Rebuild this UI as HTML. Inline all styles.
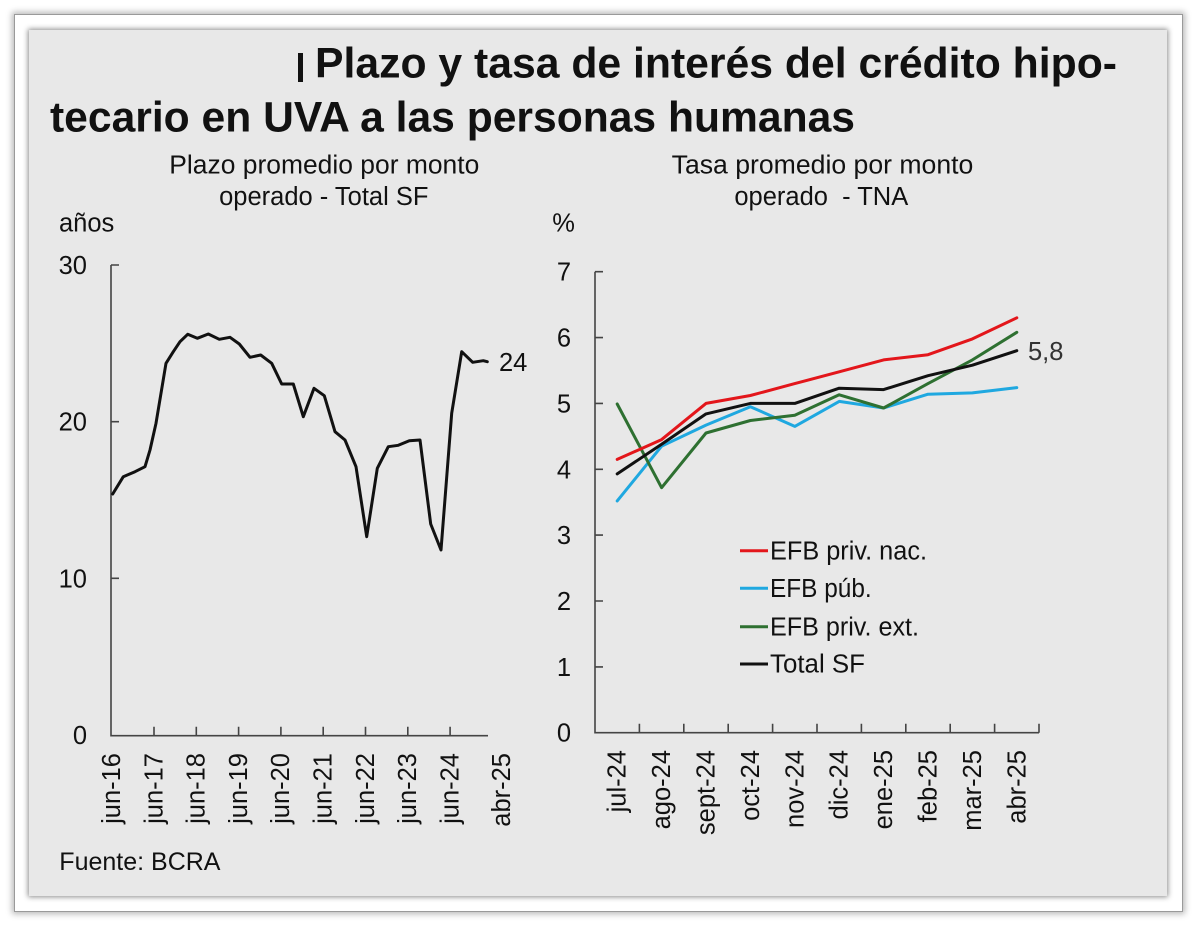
<!DOCTYPE html>
<html><head><meta charset="utf-8">
<style>
html,body{margin:0;padding:0;background:#fff;width:1200px;height:929px;overflow:hidden;}
.outer{position:absolute;left:14px;top:14px;width:1167px;height:896px;background:#fff;border:1px solid #9a9a9a;box-shadow:0 0 6px 2px rgba(0,0,0,0.28);}
.inner{position:absolute;left:29px;top:30px;width:1138px;height:866px;background:#e8e8e8;box-shadow:0 0 5px 1px rgba(0,0,0,0.45);}
svg{position:absolute;left:0;top:0;}
text{font-family:"Liberation Sans",Arial,sans-serif;fill:#111;}
</style></head><body>
<div class="outer"></div>
<div class="inner"></div>
<svg width="1200" height="929" viewBox="0 0 1200 929" xmlns="http://www.w3.org/2000/svg">
  <!-- Title -->
  <rect x="298" y="53" width="5" height="29" fill="#111"/>
  <text x="315" y="77.7" font-size="42.5" font-weight="bold" textLength="802" lengthAdjust="spacingAndGlyphs">Plazo y tasa de interés del crédito hipo-</text>
  <text x="50" y="131.7" font-size="42.5" font-weight="bold" textLength="805" lengthAdjust="spacingAndGlyphs">tecario en UVA a las personas humanas</text>

  <!-- Subtitles -->
  <text x="324.3" y="173.3" font-size="25.5" text-anchor="middle" textLength="310" lengthAdjust="spacingAndGlyphs">Plazo promedio por monto</text>
  <text x="323.8" y="205" font-size="25.5" text-anchor="middle">operado - Total SF</text>
  <text x="822.5" y="173.3" font-size="25.5" text-anchor="middle" textLength="301.7" lengthAdjust="spacingAndGlyphs">Tasa promedio por monto</text>
  <text x="821.3" y="205" font-size="25.5" text-anchor="middle" style="white-space:pre" xml:space="preserve">operado  - TNA</text>

  <text x="59" y="231.7" font-size="25.5">años</text>
  <text x="552.3" y="231.7" font-size="25.5">%</text>

  <!-- Left chart axes -->
  <g stroke="#444" stroke-width="1.6" fill="none">
    <path d="M111 265 V735.7 H488"/>
    <path d="M111 265 H119 M111 421.7 H119 M111 578.3 H119"/>
    <path d="M154 735.7 V726.7 M196.3 735.7 V726.7 M238.6 735.7 V726.7 M280.9 735.7 V726.7 M323.2 735.7 V726.7 M365.5 735.7 V726.7 M407.8 735.7 V726.7 M450.1 735.7 V726.7"/>
  </g>
  <g font-size="25.5" text-anchor="end">
    <text x="87" y="274">30</text>
    <text x="87" y="430.7">20</text>
    <text x="87" y="587.3">10</text>
    <text x="87" y="744">0</text>
  </g>
  <g font-size="25.5" text-anchor="end">
    <text transform="translate(120,753) rotate(-90)">jun-16</text>
    <text transform="translate(162.3,753) rotate(-90)">jun-17</text>
    <text transform="translate(204.6,753) rotate(-90)">jun-18</text>
    <text transform="translate(246.9,753) rotate(-90)">jun-19</text>
    <text transform="translate(289.2,753) rotate(-90)">jun-20</text>
    <text transform="translate(331.5,753) rotate(-90)">jun-21</text>
    <text transform="translate(373.8,753) rotate(-90)">jun-22</text>
    <text transform="translate(416.1,753) rotate(-90)">jun-23</text>
    <text transform="translate(458.4,753) rotate(-90)">jun-24</text>
    <text transform="translate(510,753) rotate(-90)">abr-25</text>
  </g>
  <polyline fill="none" stroke="#111" stroke-width="3" stroke-linejoin="round" stroke-linecap="round"
    points="112.7,494 123.3,476.7 127.3,475 135,471.7 145,466.7 150,450 156,423.3 166,363.3 173.3,351.7 180,341.7 187.7,334.3 197.3,338.3 208.3,334 219.3,339.3 230,337.3 239.3,344 250,357.3 260.7,355 271.7,363.3 281.7,384 293.3,384 303.3,416.7 314,388.3 324.3,395.7 335,431.7 345,440 356,466.7 366.7,536.7 377.3,468.3 388.3,446.7 398.3,445.3 409.3,440.7 420,440 430.7,524 441,550 451.7,413.3 461.7,351.7 472.7,362.3 483.3,360.7 487.3,361.7"/>
  <text x="499" y="371" font-size="25.5">24</text>

  <!-- Right chart axes -->
  <g stroke="#444" stroke-width="1.6" fill="none">
    <path d="M595 271.7 V732.7 H1039"/>
    <path d="M595 271.7 H603 M595 337.6 H603 M595 403.4 H603 M595 469.3 H603 M595 535.1 H603 M595 601 H603 M595 666.9 H603"/>
    <path d="M639.4 732.7 V723.7 M683.8 732.7 V723.7 M728.2 732.7 V723.7 M772.6 732.7 V723.7 M817 732.7 V723.7 M861.4 732.7 V723.7 M905.8 732.7 V723.7 M950.2 732.7 V723.7 M994.6 732.7 V723.7 M1039 732.7 V723.7"/>
  </g>
  <g font-size="25.5" text-anchor="end">
    <text x="571" y="280.7">7</text>
    <text x="571" y="346.6">6</text>
    <text x="571" y="412.4">5</text>
    <text x="571" y="478.3">4</text>
    <text x="571" y="544.1">3</text>
    <text x="571" y="610">2</text>
    <text x="571" y="675.9">1</text>
    <text x="571" y="741.7">0</text>
  </g>
  <g font-size="25.5" text-anchor="end">
    <text transform="translate(625.7,750) rotate(-90)">jul-24</text>
    <text transform="translate(670.1,750) rotate(-90)">ago-24</text>
    <text transform="translate(714.5,750) rotate(-90)">sept-24</text>
    <text transform="translate(758.9,750) rotate(-90)">oct-24</text>
    <text transform="translate(803.3,750) rotate(-90)">nov-24</text>
    <text transform="translate(847.7,750) rotate(-90)">dic-24</text>
    <text transform="translate(892.1,750) rotate(-90)">ene-25</text>
    <text transform="translate(936.5,750) rotate(-90)">feb-25</text>
    <text transform="translate(980.9,750) rotate(-90)">mar-25</text>
    <text transform="translate(1025.3,750) rotate(-90)">abr-25</text>
  </g>
  <g fill="none" stroke-width="3" stroke-linejoin="round" stroke-linecap="round">
    <polyline stroke="#1fa8e0" points="617.2,500.9 661.6,446.2 706,425.1 750.4,406.7 794.8,426.4 839.2,401.4 883.6,408 928,394.2 972.4,392.9 1016.8,387.6"/>
    <polyline stroke="#2e7031" points="617.2,404 661.6,487.7 706,433 750.4,420.5 794.8,415.2 839.2,394.8 883.6,408 928,383.6 972.4,359.9 1016.8,332.3"/>
    <polyline stroke="#111" points="617.2,473.9 661.6,444.2 706,413.9 750.4,403.4 794.8,403.4 839.2,388.2 883.6,389.6 928,375.7 972.4,365.2 1016.8,350.7"/>
    <polyline stroke="#e3161b" points="617.2,459.4 661.6,439.6 706,403.4 750.4,395.5 794.8,383.6 839.2,371.8 883.6,359.9 928,354.7 972.4,338.9 1016.8,317.8"/>
  </g>
  <text x="1028" y="360" font-size="25.5" style="fill:#333">5,8</text>

  <!-- Legend -->
  <g stroke-width="3">
    <line x1="740" y1="550.7" x2="768" y2="550.7" stroke="#e3161b"/>
    <line x1="740" y1="588.3" x2="768" y2="588.3" stroke="#1fa8e0"/>
    <line x1="740" y1="626.7" x2="768" y2="626.7" stroke="#2e7031"/>
    <line x1="740" y1="664" x2="768" y2="664" stroke="#111"/>
  </g>
  <g font-size="25.5">
    <text x="770" y="559.3" textLength="157" lengthAdjust="spacingAndGlyphs">EFB priv. nac.</text>
    <text x="770" y="596.9" textLength="101.7" lengthAdjust="spacingAndGlyphs">EFB púb.</text>
    <text x="770" y="635.3" textLength="149" lengthAdjust="spacingAndGlyphs">EFB priv. ext.</text>
    <text x="770" y="672.6" textLength="95" lengthAdjust="spacingAndGlyphs">Total SF</text>
  </g>

  <text x="59.3" y="870" font-size="25">Fuente: BCRA</text>
</svg>
</body></html>
